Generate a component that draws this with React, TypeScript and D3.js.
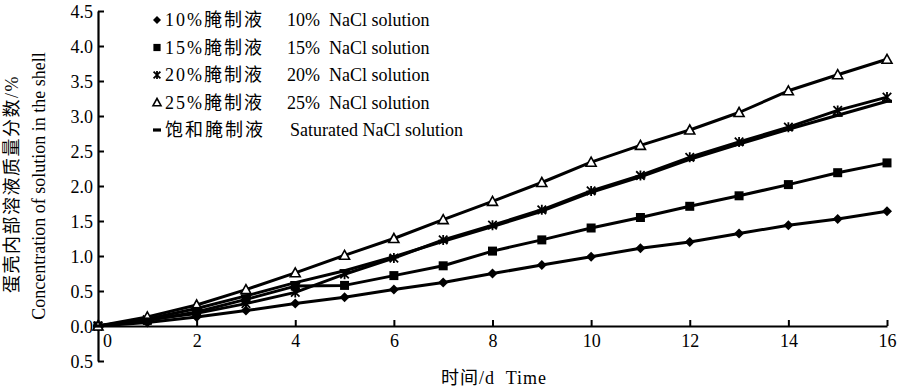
import * as d3 from 'd3';
import React, { useRef, useEffect } from 'react';

// days of curing
const days = [0, 1, 2, 3, 4, 5, 6, 7, 8, 9, 10, 11, 12, 13, 14, 15, 16];

// mass fraction inside the shell, %
const salt10 = [0, 0.05, 0.13, 0.22, 0.32, 0.41, 0.52, 0.62, 0.75, 0.87, 0.99, 1.11, 1.2, 1.32, 1.44, 1.53, 1.64];
const salt15 = [0, 0.08, 0.2, 0.38, 0.57, 0.58, 0.72, 0.86, 1.07, 1.23, 1.4, 1.55, 1.71, 1.86, 2.02, 2.19, 2.33];
const salt20 = [0, 0.09, 0.18, 0.32, 0.48, 0.74, 0.97, 1.23, 1.44, 1.66, 1.93, 2.15, 2.41, 2.63, 2.84, 3.08, 3.27];
const salt25 = [0, 0.13, 0.3, 0.52, 0.76, 1.01, 1.25, 1.52, 1.78, 2.05, 2.34, 2.58, 2.8, 3.05, 3.36, 3.59, 3.81];
const saturated = [0, 0.1, 0.25, 0.43, 0.62, 0.79, 0.99, 1.21, 1.42, 1.64, 1.91, 2.13, 2.38, 2.6, 2.81, 3.01, 3.21];

const legendCn = ['10%腌制液', '15%腌制液', '20%腌制液', '25%腌制液', '饱和腌制液'];
const legendEn = ['10%  NaCl solution', '15%  NaCl solution', '20%  NaCl solution', '25%  NaCl solution', 'Saturated NaCl solution'];
const markers = ['diamond', 'square', 'star', 'triangle', 'dash'];

const xTicks = [0, 2, 4, 6, 8, 10, 12, 14, 16];
const yTicks = [-0.5, 0, 0.5, 1, 1.5, 2, 2.5, 3, 3.5, 4, 4.5];

const xTitle = '时间/d  Time';
const yTitleCn = '蛋壳内部溶液质量分数/%';
const yTitleEn = 'Concentration of solution in the shell';

const W = 900;
const H = 390;
const FONT = '"Liberation Serif", "Noto Sans CJK SC", serif';

// draws a marker of a given kind at (x, y), s = half size
function drawMarker(g: any, kind: string, x: number, y: number, s: number) {
  if (kind === 'diamond') {
    g.append('path')
      .attr('d', `M${x},${y - s}L${x + s},${y}L${x},${y + s}L${x - s},${y}Z`)
      .attr('fill', '#000');
  } else if (kind === 'square') {
    g.append('rect')
      .attr('x', x - s * 0.9).attr('y', y - s * 0.9)
      .attr('width', s * 1.8).attr('height', s * 1.8)
      .attr('fill', '#000');
  } else if (kind === 'triangle') {
    g.append('path')
      .attr('d', `M${x},${y - s}L${x + s},${y + s * 0.8}L${x - s},${y + s * 0.8}Z`)
      .attr('fill', '#fff')
      .attr('stroke', '#000')
      .attr('stroke-width', 1.6);
  } else if (kind === 'star') {
    const p = s * 0.85;
    g.append('path')
      .attr('d', `M${x - p},${y - p}L${x + p},${y + p}M${x + p},${y - p}L${x - p},${y + p}M${x},${y - s}L${x},${y + s}`)
      .attr('stroke', '#000')
      .attr('stroke-width', 1.8)
      .attr('fill', 'none');
  } else {
    g.append('rect')
      .attr('x', x - s).attr('y', y - 1.6)
      .attr('width', s * 2).attr('height', 3.2)
      .attr('fill', '#000');
  }
}

const App: React.FC = () => {
  const svgRef = useRef<SVGSVGElement | null>(null);

  useEffect(() => {
    const svg = d3.select(svgRef.current);
    svg.selectAll('*').remove();

    const x = d3.scaleLinear().domain([0, 16]).range([98, 887]);
    const y = d3.scaleLinear().domain([-0.5, 4.5]).range([361, 11]);

    svg.append('rect').attr('width', W).attr('height', H).attr('fill', '#fff');

    // Y axis (ticks point inward)
    const yAxis = svg.append('g')
      .attr('transform', `translate(${x(0)},0)`)
      .call(d3.axisRight(y).tickValues(yTicks).tickSize(6).tickSizeOuter(0)
        .tickFormat((d: any) => d3.format('.1f')(Math.abs(d))));
    yAxis.select('.domain').attr('stroke-width', 2.2);
    yAxis.selectAll('line').attr('stroke-width', 2);
    yAxis.selectAll('text')
      .attr('x', -5)
      .attr('dy', '0.35em')
      .attr('text-anchor', 'end')
      .attr('font-size', 18)
      .attr('font-family', FONT)
      .attr('fill', '#000');

    // X axis at zero
    const xAxis = svg.append('g')
      .attr('transform', `translate(0,${y(0)})`)
      .call(d3.axisTop(x).tickValues(xTicks).tickSize(6).tickSizeOuter(0).tickFormat(d3.format('d')));
    xAxis.select('.domain').attr('stroke-width', 2.2);
    xAxis.selectAll('line').attr('stroke-width', 2);
    xAxis.selectAll('text')
      .attr('y', 21)
      .attr('dy', 0)
      .attr('x', (d: any) => (d === 0 ? 9 : 0))
      .attr('font-size', 18)
      .attr('font-family', FONT)
      .attr('fill', '#000');

    // Series lines and markers
    const all = [salt10, salt15, salt20, salt25, saturated];
    const line = d3.line<number>()
      .x((_, i) => x(days[i]))
      .y((d) => y(d));

    all.forEach((vals) => {
      svg.append('path')
        .datum(vals)
        .attr('fill', 'none')
        .attr('stroke', '#000')
        .attr('stroke-width', 3)
        .attr('stroke-linejoin', 'round')
        .attr('d', line);
    });
    const mg = svg.append('g');
    all.forEach((vals, k) => {
      vals.forEach((v, i) => drawMarker(mg, markers[k], x(days[i]), y(v), 5));
    });

    // Legend
    const lg = svg.append('g');
    legendCn.forEach((cn, i) => {
      const cy = 20 + i * 27.5;
      drawMarker(lg, markers[i], 157, cy, 4);
      lg.append('text')
        .attr('x', 165).attr('y', cy)
        .attr('dy', '0.35em')
        .attr('font-size', 18)
        .attr('letter-spacing', 2)
        .attr('font-family', FONT)
        .text(cn);
      lg.append('text')
        .attr('x', i === 4 ? 290 : 287).attr('y', cy)
        .attr('dy', '0.35em')
        .attr('font-size', 18)
        .attr('font-family', FONT)
        .style('white-space', 'pre')
        .text(legendEn[i]);
    });

    // Axis titles
    svg.append('text')
      .attr('x', 494).attr('y', 384)
      .attr('text-anchor', 'middle')
      .attr('font-size', 18)
      .attr('letter-spacing', 1)
      .attr('font-family', FONT)
      .style('white-space', 'pre')
      .text(xTitle);

    svg.append('text')
      .attr('transform', 'translate(12,184) rotate(-90)')
      .attr('text-anchor', 'middle')
      .attr('dy', '0.35em')
      .attr('font-size', 18)
      .attr('letter-spacing', 1.5)
      .attr('font-family', FONT)
      .text(yTitleCn);

    svg.append('text')
      .attr('transform', 'translate(39,186) rotate(-90)')
      .attr('text-anchor', 'middle')
      .attr('dy', '0.35em')
      .attr('font-size', 18)
      .attr('font-family', FONT)
      .text(yTitleEn);
  }, []);

  return (
    <svg
      ref={svgRef}
      width={W}
      height={H}
      style={{ position: 'absolute', left: 0, top: 0, display: 'block' }}
    />
  );
};

export default App;
